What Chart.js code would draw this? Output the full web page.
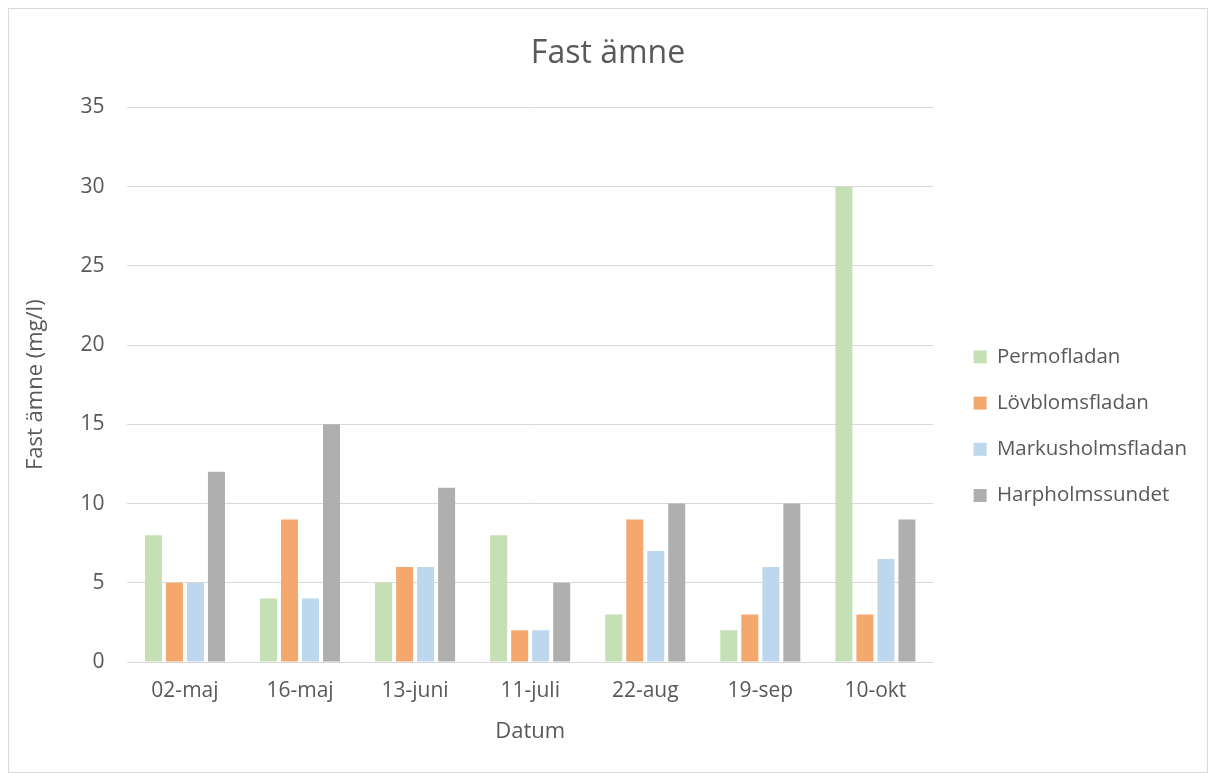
<!DOCTYPE html>
<html><head><meta charset="utf-8">
<script src="https://cdn.jsdelivr.net/npm/chart.js@4"></script>
<style>
html,body{margin:0;padding:0;background:#fff;}
#box{position:absolute;left:8px;top:8px;width:1200px;height:765px;border:1px solid #d9d9d9;box-sizing:border-box;background:#fff;}
canvas{position:absolute;left:0;top:0;}
</style></head>
<body>
<div id="box"><canvas id="c" width="1198" height="763"></canvas></div>
<script>
const categories = ["02-maj","16-maj","13-juni","11-juli","22-aug","19-sep","10-okt"];
const permofladan = [8,4,5,8,3,2,30];
const lovblomsfladan = [5,9,6,2,9,3,3];
const markusholmsfladan = [5,4,6,2,7,6,6.5];
const harpholmssundet = [12,15,11,5,10,10,9];
const seriesNames = ["Permofladan","Lövblomsfladan","Markusholmsfladan","Harpholmssundet"];
const colors = ["#C5E0B4","#F4A86E","#BDD7EE","#AFAFAF"];
const values = [permofladan, lovblomsfladan, markusholmsfladan, harpholmssundet];
const font = "'Open Sans', sans-serif";
const LEGEND_GAP = 15;
Chart.defaults.font.family = font;
Chart.defaults.color = "#595959";
const chart = new Chart(document.getElementById('c'), {
  type: 'bar',
  data: {
    labels: categories,
    datasets: seriesNames.map((n,i)=>({
      label: n, data: values[i], backgroundColor: colors[i],
      borderColor: colors[i], borderWidth: 0,
      barPercentage: 0.81, categoryPercentage: 0.73
    }))
  },
  options: {
    responsive: false, animation: false,
    layout: {padding: {left: 10, right: 10, top: 10, bottom: 29}},
    plugins: {
      title: {display: true, text: "Fast ämne", color: "#595959",
        font: {size: 32, weight: 'normal', family: font}, padding: {top: 16, bottom: 34}},
      legend: {position: 'right',
        title: {display: true, text: ' ', font: {size: 12}, padding: {top: 0, bottom: 76}},
        labels: {boxWidth: 13, boxHeight: 13, padding: 25.7, color: "#595959",
          font: {size: 20.5, family: font}}},
      tooltip: {enabled: false}
    },
    scales: {
      x: {
        grid: {display: false, drawTicks: false},
        border: {display: true, color: "#d9d9d9", width: 1},
        ticks: {font: {size: 21, lineHeight: 1.0}, color: "#595959", padding: 19},
        title: {display: true, text: "Datum", font: {size: 22, lineHeight: 1.0}, color: "#595959", padding: {top: 0, bottom: 0}}
      },
      y: {
        min: 0, max: 35,
        ticks: {stepSize: 5, font: {size: 21}, color: "#595959", padding: 23},
        grid: {color: "#d9d9d9", drawTicks: false},
        border: {display: false},
        title: {display: true, text: "Fast ämne (mg/l)", font: {size: 22}, color: "#595959", padding: {bottom: 8}}
      }
    }
  }
});
// widen the legend box on its left side so the plot ends further from the legend swatches
if (chart.legend) {
  const lg = chart.legend;
  const origFit = lg.fit.bind(lg);
  lg.fit = function(){ origFit(); this.width += LEGEND_GAP; };
  const origDraw = lg.draw.bind(lg);
  lg.draw = function(){ const c = this.ctx; c.save(); c.translate(LEGEND_GAP, 0); origDraw(); c.restore(); };
  chart.update('none');
}
</script>
</body></html>
